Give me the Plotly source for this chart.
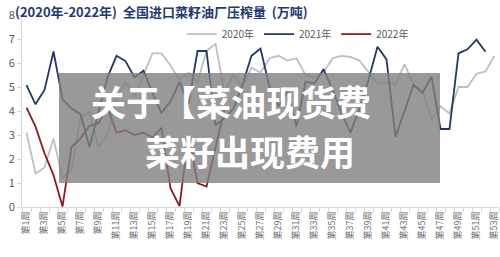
import plotly.graph_objects as go

weeks = [f"第{i}周" for i in range(1, 54)]

y2020 = [3.1, 1.4, 1.65, 2.85, 1.2, 1.55, 3.7, 4.0, 2.5, 3.0,
         4.6, 5.2, 4.6, 5.5, 6.4, 6.4, 5.9, 5.3, 5.6, 5.2,
         6.5, 6.8, 4.8, 5.5, 5.0, 5.8, 5.6, 6.2, 6.3, 6.1,
         6.2, 5.5, 5.4, 5.6, 6.2, 6.3, 6.25, 6.1, 5.6, 5.15,
         5.2, 5.1, 5.95, 5.1, 4.87, 3.65, 4.2, 3.9, 5.0, 5.0,
         5.55, 5.65, 6.3]
y2021 = [5.08, 4.28, 4.88, 6.48, 4.5, 4.1, 3.87, 2.5, 3.95, 5.4,
         6.3, 6.08, 5.4, 5.68, 4.74, 3.92, 4.4, 5.2, 4.3, 6.5,
         6.5, 3.4, 3.7, 4.1, 5.1, 6.3, 6.6, 5.0, 4.2, 4.8,
         3.35, 5.22, 5.15, 5.74, 4.9, 3.9, 3.1, 4.1, 5.3, 6.68,
         6.15, 2.92, 4.0, 5.08, 4.75, 5.43, 3.25, 3.25, 6.4, 6.57,
         6.97, 6.47]
y2022 = [4.14, 3.35, 2.24, 1.33, 0.02, 2.5, 2.86, 3.38, 3.49, 4.15,
         3.1, 3.2, 3.0, 3.1, 2.9, 3.3, 0.78, 0.04, 3.0, 1.0,
         0.85, 2.5, 4.1]

series = [("2020年", y2020, "#BFBFBF"),
          ("2021年", y2021, "#1F3864"),
          ("2022年", y2022, "#8B1A1A")]

fig = go.Figure()
for name, vals, col in series:
    fig.add_trace(go.Scatter(x=weeks[:len(vals)], y=vals, mode="lines", name=name,
                             line=dict(color=col, width=1.8)))

ticktext = [w if i % 2 == 0 else "" for i, w in enumerate(weeks)]

fig.update_layout(
    width=500, height=257,
    margin=dict(l=22, r=1, t=15, b=50),
    paper_bgcolor="white", plot_bgcolor="white",
    font=dict(family="Noto Sans CJK SC", color="#595959"),
    title=dict(text="<b>(2020年-2022年)  全国进口菜籽油厂压榨量  (万吨)</b>",
               x=15/500, xanchor="left", xref="container",
               y=1-12/257, yanchor="middle", yref="container",
               font=dict(size=13, color="#1F3A6E", family="Noto Sans CJK SC")),
    legend=dict(orientation="h", x=0.335, xanchor="left", y=0.90, yanchor="middle",
                font=dict(size=10, color="#595959"), bgcolor="rgba(0,0,0,0)",
                itemwidth=30, traceorder="normal"),
    showlegend=True,
    xaxis=dict(type="category", categoryorder="array", categoryarray=weeks,
               range=[-0.5, 52.5], tickmode="array", tickvals=weeks, ticktext=ticktext,
               tickangle=-90, tickson="boundaries", ticks="outside", ticklen=4,
               tickcolor="#D9D9D9", showline=True, linecolor="#D9D9D9", linewidth=1,
               showgrid=False, tickfont=dict(size=9, color="#6B6B6B")),
    yaxis=dict(range=[0, 8], dtick=1, showgrid=False, zeroline=False,
               showline=True, linecolor="#D9D9D9", linewidth=1, ticks="outside",
               ticklen=4, tickcolor="#D9D9D9", tickfont=dict(size=11, color="#595959")),
    shapes=[dict(type="rect", xref="paper", yref="paper",
                 x0=(59-22)/477, x1=(440-22)/477, y0=(207-183)/192, y1=(207-73)/192,
                 fillcolor="rgba(128,128,128,0.8)", line=dict(width=0), layer="above")],
    annotations=[
        dict(text="<b>关于【菜油现货费</b>", xref="paper", yref="paper",
             x=(231-22)/477, y=(207-100)/192, xanchor="center", yanchor="middle",
             showarrow=False,
             font=dict(size=35, color="white", family="Noto Sans CJK SC")),
        dict(text="<b>菜籽出现费用</b>", xref="paper", yref="paper",
             x=(250-22)/477, y=(207-150)/192, xanchor="center", yanchor="middle",
             showarrow=False,
             font=dict(size=35, color="white", family="Noto Sans CJK SC")),
    ],
)

fig.write_html("out.html")
